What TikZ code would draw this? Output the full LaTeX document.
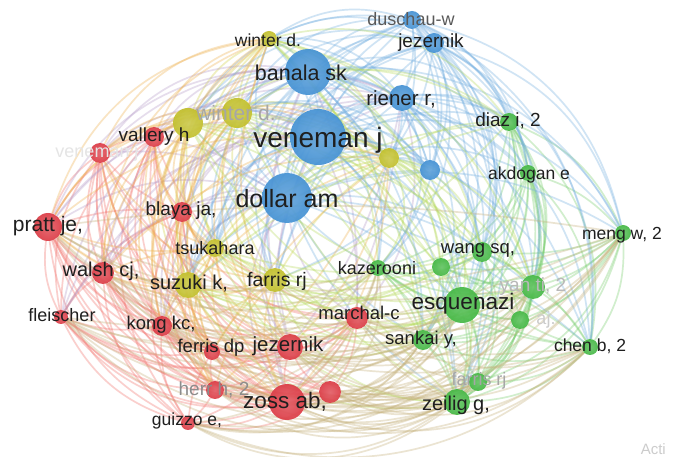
\documentclass[tikz,border=0pt]{standalone}
\usepackage{fontspec}
\setmainfont{Liberation Sans}

\definecolor{vblue}{HTML}{4592D4}
\definecolor{vred}{HTML}{DC3C46}
\definecolor{vyel}{HTML}{C2C02C}
\definecolor{vgrn}{HTML}{45B845}
\definecolor{ered}{HTML}{F2706A}
\definecolor{eblue}{HTML}{72AEE0}
\definecolor{eyel}{HTML}{CFD040}
\definecolor{egrn}{HTML}{74CC6A}
\definecolor{emauve}{HTML}{B49AC8}
\definecolor{eorng}{HTML}{EDB04A}
\definecolor{elime}{HTML}{B4D858}
\definecolor{eolive}{HTML}{C4B078}

\pgfdeclarelayer{paper}
\pgfdeclarelayer{links}
\pgfsetlayers{paper,links,main}

\tikzset{
  lnkline/.style={line width=1.7pt, opacity=0.33},
  bubble/.style={circle, inner sep=0pt, inner color=#1!82!white, outer color=#1, fill opacity=0.93},
  lbl/.style={inner sep=0pt, text=black!88},
  faded/.style={inner sep=0pt, text=black!#1}
}

% curved link, bulging away from the middle of the map
\newdimen\lax \newdimen\lay \newdimen\lbx \newdimen\lby
\newcommand{\lnk}[3]{%
  \pgfextractx{\lax}{\pgfpointanchor{#2}{center}}%
  \pgfextracty{\lay}{\pgfpointanchor{#2}{center}}%
  \pgfextractx{\lbx}{\pgfpointanchor{#3}{center}}%
  \pgfextracty{\lby}{\pgfpointanchor{#3}{center}}%
  \pgfmathsetmacro{\lnkcrs}{((\lax-330)/100)*((\lby+230)/100)-((\lay+230)/100)*((\lbx-330)/100)}%
  \pgfmathsetmacro{\lnksin}{\lnkcrs/(veclen((\lax-330)/100,(\lay+230)/100)*veclen((\lbx-330)/100,(\lby+230)/100)+0.01)}%
  \pgfmathsetmacro{\lnkbend}{8+26*abs(\lnksin)}%
  \ifdim\lnkcrs pt>0pt
    \draw[lnkline,#1] (#2) to[bend right=\lnkbend] (#3);
  \else
    \draw[lnkline,#1] (#2) to[bend left=\lnkbend] (#3);
  \fi}

\begin{document}
\begin{tikzpicture}[x=1pt,y=-1pt]
\begin{pgfonlayer}{paper}
\fill[white] (0,0) rectangle (673,457);
\end{pgfonlayer}
\useasboundingbox (0,0) rectangle (673,457);

% clusters
\foreach \nm/\px/\py/\rr in {banala/308/72/23, veneman/318/137/28, dollar/287/198/25,
  riener/402/98/13, jezB/434/43/10, duschau/412/20/9, blueS/430/170/10}
  \node[bubble=vblue, minimum size=2*\rr pt] (\nm) at (\px,\py) {};
\foreach \nm/\px/\py/\rr in {winter/269/39/8, yelA/188/123/15, yelB/237/113/15,
  yelC/389/158/10, tsuka/215/248/9, suzuki/188/285/13, farrisY/275/280/12}
  \node[bubble=vyel, minimum size=2*\rr pt] (\nm) at (\px,\py) {};
\foreach \nm/\px/\py/\rr in {vallery/154/137/10, venR/100/153/10, blaya/182/212/10,
  pratt/48/227/14, walsh/103/273/11, fleisch/61/317/7, kong/162/326/10,
  ferris/212/352/8, jezR/290/347/13, herr/215/390/9, zoss/287/402/18,
  redZ/330/392/11, guizzo/188/423/7, marchal/357/318/11}
  \node[bubble=vred, minimum size=2*\rr pt] (\nm) at (\px,\py) {};
\foreach \nm/\px/\py/\rr in {diaz/509/122/9, akdogan/528/173/8, meng/623/233/8,
  wang/482/252/10, grnS/441/267/9, kaz/378/268/8, yan/533/287/12, esq/462/305/18,
  grnAJ/520/320/9, sankai/423/340/10, chen/590/347/8, farrisG/478/382/9,
  zeilig/457/402/13}
  \node[bubble=vgrn, minimum size=2*\rr pt] (\nm) at (\px,\py) {};

\begin{pgfonlayer}{links}
% inside the clusters
\foreach \a [count=\i] in {vallery,venR,blaya,pratt,walsh,fleisch,kong,ferris,jezR,herr,zoss,redZ,guizzo,marchal}
  {\foreach \b [count=\j] in {vallery,venR,blaya,pratt,walsh,fleisch,kong,ferris,jezR,herr,zoss,redZ,guizzo,marchal}
    {\ifnum\j>\i \lnk{ered}{\a}{\b}\fi}}
\foreach \a [count=\i] in {diaz,akdogan,meng,wang,grnS,kaz,yan,esq,grnAJ,sankai,chen,farrisG,zeilig}
  {\foreach \b [count=\j] in {diaz,akdogan,meng,wang,grnS,kaz,yan,esq,grnAJ,sankai,chen,farrisG,zeilig}
    {\ifnum\j>\i \lnk{egrn}{\a}{\b}\fi}}
\foreach \a [count=\i] in {banala,veneman,dollar,riener,jezB,duschau,blueS}
  {\foreach \b [count=\j] in {banala,veneman,dollar,riener,jezB,duschau,blueS}
    {\ifnum\j>\i \lnk{eblue}{\a}{\b}\fi}}
\foreach \a [count=\i] in {winter,yelA,yelB,yelC,tsuka,suzuki,farrisY}
  {\foreach \b [count=\j] in {winter,yelA,yelB,yelC,tsuka,suzuki,farrisY}
    {\ifnum\j>\i \lnk{eyel}{\a}{\b}\fi}}
% between the clusters
\foreach \a in {banala,veneman,dollar,riener}
  \foreach \b in {vallery,venR,pratt,blaya,walsh,kong,jezR,zoss,marchal,fleisch}
    {\lnk{emauve}{\a}{\b}}
\foreach \a in {banala,veneman,dollar,riener,jezB,duschau}
  \foreach \b in {diaz,akdogan,meng,wang,yan,esq,chen,sankai,zeilig,kaz}
    {\lnk{eblue}{\a}{\b}}
\foreach \a in {banala,veneman,dollar,riener,jezB,duschau,blueS}
  \foreach \b in {winter,yelA,yelB,yelC,tsuka,suzuki,farrisY}
    {\lnk{eblue}{\a}{\b}}
\foreach \a in {yelA,yelB,suzuki,farrisY,tsuka,winter,yelC}
  \foreach \b in {vallery,venR,pratt,blaya,walsh,kong,jezR,zoss,ferris,herr}
    {\lnk{eorng}{\a}{\b}}
\foreach \a in {yelA,yelB,suzuki,farrisY,tsuka,winter,yelC}
  \foreach \b in {esq,zeilig,diaz,wang,sankai,kaz,yan,grnS}
    {\lnk{elime}{\a}{\b}}
\foreach \a in {esq,zeilig,yan,chen,meng,sankai,farrisG,kaz}
  \foreach \b in {zoss,jezR,pratt,fleisch,walsh,guizzo,herr,marchal,kong,redZ}
    {\lnk{eolive}{\a}{\b}}
\end{pgfonlayer}

% faded labels
\node[faded=10, font=\fontsize{18}{18}\selectfont] (lvenR) at (97,153) {veneman j};
\node[faded=35, font=\fontsize{21}{21}\selectfont] (lyelB) at (236,113) {winter d.};
\node[faded=45, font=\fontsize{19}{19}\selectfont] (lherr) at (214,390) {herr h, 2};
\node[faded=28, font=\fontsize{19}{19}\selectfont] (lyan) at (533,287) {yan ti, 2};
\node[faded=20, font=\fontsize{18}{18}\selectfont] (lgrnAJ) at (546,320) {aj.};
\node[faded=35, font=\fontsize{18}{18}\selectfont] (lfarrisG) at (479,381) {farris rj};
\node[faded=20, font=\fontsize{15}{15}\selectfont, anchor=east] (acti) at (666,449) {Acti};

% labels
\node[lbl, font=\fontsize{28}{28}\selectfont] (lveneman) at (318,140) {veneman j};
\node[lbl, font=\fontsize{25}{25}\selectfont] (ldollar) at (287,199) {dollar am};
\node[lbl, font=\fontsize{21.5}{21.5}\selectfont] (lbanala) at (301,73) {banala sk};
\node[lbl, font=\fontsize{20.5}{20.5}\selectfont] (lriener) at (401,99) {riener r,};
\node[lbl, font=\fontsize{19}{19}\selectfont] (ljezB) at (431,43) {jezernik};
\node[faded=65, font=\fontsize{18}{18}\selectfont] (lduschau) at (411,19) {duschau-w};
\node[lbl, font=\fontsize{17.5}{17.5}\selectfont] (lwinter) at (268,40) {winter d.};
\node[lbl, font=\fontsize{19}{19}\selectfont] (lvallery) at (154,137) {vallery h};
\node[lbl, font=\fontsize{19}{19}\selectfont] (lblaya) at (181,211) {blaya ja,};
\node[lbl, font=\fontsize{21}{21}\selectfont] (lpratt) at (48,226) {pratt je,};
\node[lbl, font=\fontsize{18}{18}\selectfont] (ltsuka) at (215,248) {tsukahara};
\node[lbl, font=\fontsize{20}{20}\selectfont] (lwalsh) at (101,271) {walsh cj,};
\node[lbl, font=\fontsize{20}{20}\selectfont] (lsuzuki) at (189,284) {suzuki k,};
\node[lbl, font=\fontsize{19.5}{19.5}\selectfont] (lfarrisY) at (277,281) {farris rj};
\node[lbl, font=\fontsize{18}{18}\selectfont] (lfleisch) at (62,315) {fleischer};
\node[lbl, font=\fontsize{18.5}{18.5}\selectfont] (lkong) at (161,325) {kong kc,};
\node[lbl, font=\fontsize{18.5}{18.5}\selectfont] (lferris) at (211,348) {ferris dp};
\node[lbl, font=\fontsize{20.5}{20.5}\selectfont] (ljezR) at (288,346) {jezernik};
\node[lbl, font=\fontsize{22.5}{22.5}\selectfont] (lzoss) at (285,402) {zoss ab,};
\node[lbl, font=\fontsize{17.5}{17.5}\selectfont] (lguizzo) at (187,421) {guizzo e,};
\node[lbl, font=\fontsize{18.5}{18.5}\selectfont] (lmarchal) at (359,313) {marchal-c};
\node[lbl, font=\fontsize{18}{18}\selectfont] (lkaz) at (377,268) {kazerooni};
\node[lbl, font=\fontsize{18.5}{18.5}\selectfont] (lwang) at (478,250) {wang sq,};
\node[lbl, font=\fontsize{22.5}{22.5}\selectfont] (lesq) at (463,304) {esquenazi};
\node[lbl, font=\fontsize{18.5}{18.5}\selectfont] (lsankai) at (421,340) {sankai y,};
\node[lbl, font=\fontsize{17.5}{17.5}\selectfont] (lchen) at (590,346) {chen b, 2};
\node[lbl, font=\fontsize{17.5}{17.5}\selectfont] (lmeng) at (622,235) {meng w, 2};
\node[lbl, font=\fontsize{20}{20}\selectfont] (lzeilig) at (456,405) {zeilig g,};
\node[lbl, font=\fontsize{19}{19}\selectfont] (ldiaz) at (508,121) {diaz i, 2};
\node[lbl, font=\fontsize{17.5}{17.5}\selectfont] (lakdogan) at (529,175) {akdogan e};
\end{tikzpicture}
\end{document}
